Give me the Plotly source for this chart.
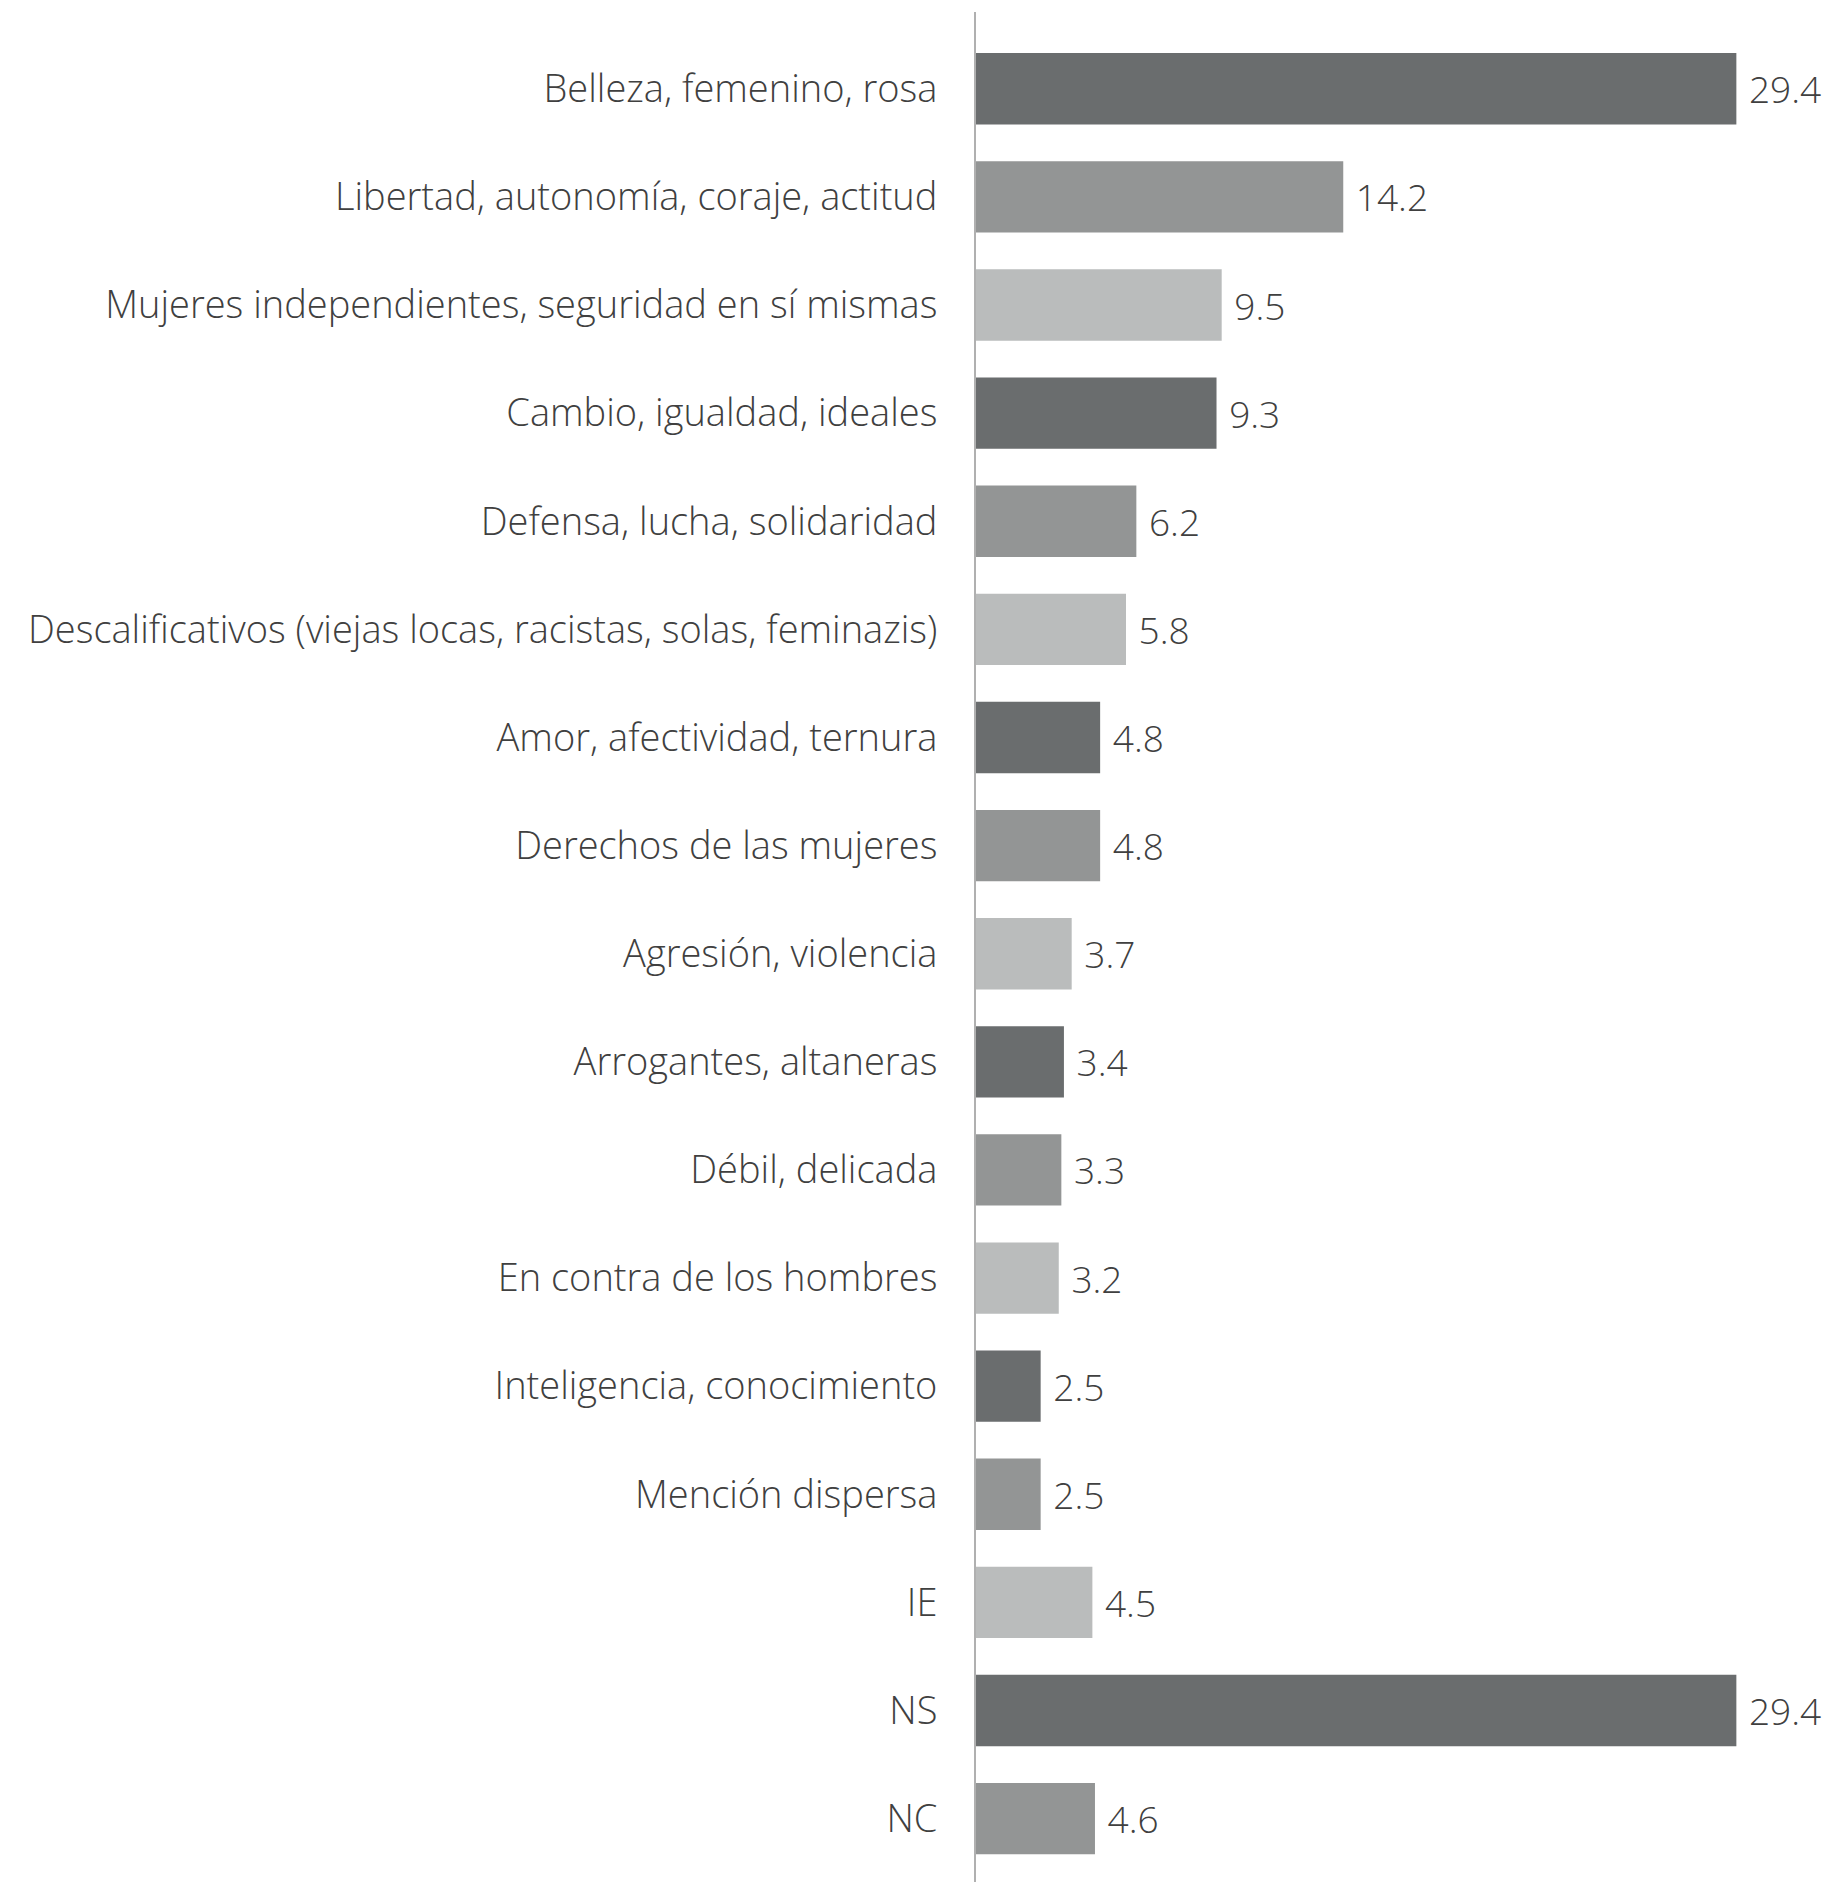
import plotly.graph_objects as go

categories = [
    "Belleza, femenino, rosa",
    "Libertad, autonomía, coraje, actitud",
    "Mujeres independientes, seguridad en sí mismas",
    "Cambio, igualdad, ideales",
    "Defensa, lucha, solidaridad",
    "Descalificativos (viejas locas, racistas, solas, feminazis)",
    "Amor, afectividad, ternura",
    "Derechos de las mujeres",
    "Agresión, violencia",
    "Arrogantes, altaneras",
    "Débil, delicada",
    "En contra de los hombres",
    "Inteligencia, conocimiento",
    "Mención dispersa",
    "IE",
    "NS",
    "NC",
]
values = [29.4, 14.2, 9.5, 9.3, 6.2, 5.8, 4.8, 4.8, 3.7, 3.4, 3.3, 3.2, 2.5, 2.5, 4.5, 29.4, 4.6]
palette = ["#6a6d6e", "#939595", "#babcbc"]
colors = [palette[i % 3] for i in range(len(values))]

FONT = "Open Sans"

fig = go.Figure(go.Bar(
    x=values,
    y=categories,
    orientation="h",
    marker=dict(color=colors, line=dict(width=0)),
    text=["\u00a0" + f"{v:.1f}" for v in values],
    textposition="outside",
    cliponaxis=False,
    textfont=dict(family=FONT, size=37, color="#404040", weight=300),
))

fig.update_layout(
    width=1815,
    height=1874,
    margin=dict(l=968, r=0, t=4, b=0),
    paper_bgcolor="white",
    plot_bgcolor="white",
    bargap=0.34,
    showlegend=False,
    xaxis=dict(range=[0, 32.75], visible=False, showgrid=False, zeroline=False),
    yaxis=dict(
        categoryorder="array",
        categoryarray=categories,
        range=[16.586, -0.71],
        showgrid=False,
        zeroline=False,
        showline=True,
        linecolor="#b0b0b0",
        linewidth=2,
        ticks="",
        ticklabelstandoff=29,
        tickfont=dict(family=FONT, size=38, color="#404040", weight=300),
    ),
)

fig.write_html("out.html")
